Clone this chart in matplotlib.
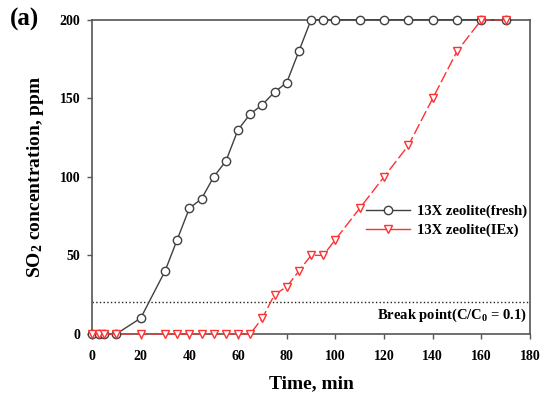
import matplotlib
matplotlib.use('Agg')
import matplotlib.pyplot as plt

# 13X zeolite (fresh)
fresh_t = [0, 3, 5, 10, 20, 30, 35, 40, 45, 50, 55, 60, 65, 70, 75, 80, 85, 90, 95, 100, 110, 120, 130, 140, 150, 160, 170]
fresh_c = [0, 0, 0, 0, 10, 40, 60, 80, 86, 100, 110, 130, 140, 146, 154, 160, 180, 200, 200, 200, 200, 200, 200, 200, 200, 200, 200]

# 13X zeolite (IEx)
iex_t = [0, 3, 5, 10, 20, 30, 35, 40, 45, 50, 55, 60, 65, 70, 75, 80, 85, 90, 95, 100, 110, 120, 130, 140, 150, 160, 170]
iex_c = [0, 0, 0, 0, 0, 0, 0, 0, 0, 0, 0, 0, 0, 10, 25, 30, 40, 50, 50, 60, 80, 100, 120, 150, 180, 200, 200]

break_level = 20
xticks = [0, 20, 40, 60, 80, 100, 120, 140, 160, 180]
yticks = [0, 50, 100, 150, 200]

plt.rcParams['font.family'] = 'Liberation Serif'
plt.rcParams['font.weight'] = 'bold'
plt.rcParams['mathtext.fontset'] = 'custom'
plt.rcParams['mathtext.rm'] = 'Liberation Serif:bold'
plt.rcParams['mathtext.it'] = 'Liberation Serif:bold'

fig = plt.figure(figsize=(5.51, 3.97), dpi=100)
ax = fig.add_axes([0.167, 0.159, 0.795, 0.791])

axcol = '#555555'
ax.axhline(break_level, color='#222222', ls=':', lw=1.0, zorder=1)
ax.plot(fresh_t, fresh_c, '-o', color='#404040', lw=1.0, ms=6, mfc='white',
        mec='#404040', mew=1.0, clip_on=False, zorder=3, label='13X zeolite(fresh)')
ax.plot(iex_t, iex_c, '-v', color='#ff3030', lw=1.0, ms=6, mfc='white',
        mec='#ff3030', mew=1.0, dashes=(8, 2.5), clip_on=False, zorder=4,
        label='13X zeolite(IEx)')

ax.set_xlim(0, 180)
ax.set_ylim(0, 200)
ax.set_xticks(xticks)
ax.set_yticks(yticks)
ax.tick_params(direction='out', length=3.5, width=1, color=axcol, labelsize=10)
ax.tick_params(axis='x', pad=8)
ax.tick_params(axis='y', pad=5)
ax.tick_params(top=False, right=False)
for s in ax.spines.values():
    s.set_color(axcol)
    s.set_linewidth(1.2)

ax.set_xlabel('Time, min', fontsize=14, fontweight='bold', labelpad=9)
ax.set_ylabel('SO$_2$ concentration, ppm', fontsize=14, fontweight='bold', labelpad=10)

ax.text(179, 12, 'Break point(C/C$_0$ = 0.1)', ha='right', va='center',
        fontsize=10.5, fontweight='bold')

leg = ax.legend(loc='upper left', bbox_to_anchor=(0.612, 0.43), frameon=False,
                fontsize=10.5, handlelength=3.0, handletextpad=0.5, labelspacing=0.4,
                borderaxespad=0)
for h in leg.get_lines():
    h.set_linestyle('-')

fig.text(0.018, 0.952, '(a)', fontsize=18, fontweight='bold', va='center')

fig.savefig('out.png', dpi=100)
